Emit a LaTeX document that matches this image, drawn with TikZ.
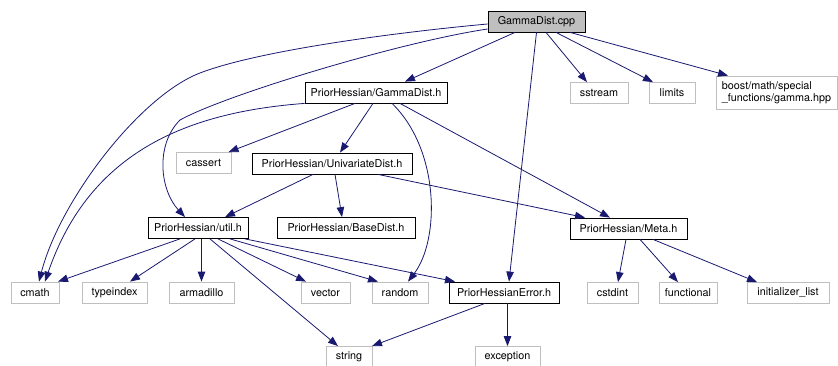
\documentclass[tikz,border=0pt]{standalone}
\usepackage{fontspec}
\setmainfont{TeX Gyre Heros}
\usetikzlibrary{arrows.meta}
\definecolor{edgeblue}{RGB}{25,25,112}
\definecolor{boxgray}{RGB}{191,191,191}

\begin{document}
\begin{tikzpicture}[x=1pt, y=-1pt,
    incbox/.style={draw=black, fill=white, line width=0.8pt, minimum height=21pt, inner sep=0pt, font=\fontsize{10.8}{12}\selectfont},
    sysbox/.style={incbox, draw=boxgray},
    rootbox/.style={incbox, fill=boxgray},
    arrow/.style={-{Triangle[length=10pt,width=7.5pt]}, edgeblue, line width=0.8pt}
]
\useasboundingbox (0,0) rectangle (838,366);

% Project headers
\node[rootbox, minimum width=97pt] (cpp) at (536.5,21.5) {GammaDist.cpp};
\node[incbox, minimum width=142pt] (gdh) at (376,92.5) {PriorHessian/GammaDist.h};
\node[incbox, minimum width=160pt] (unid) at (332,163.5) {PriorHessian/UnivariateDist.h};
\node[incbox, minimum width=100pt] (util) at (198,228) {PriorHessian/util.h};
\node[incbox, minimum width=138pt] (base) at (346,228) {PriorHessian/BaseDist.h};
\node[incbox, minimum width=117pt] (meta) at (628.5,228.5) {PriorHessian/Meta.h};
\node[incbox, minimum width=110pt] (peh) at (504,292.5) {PriorHessianError.h};

% System headers
\node[sysbox, minimum width=58pt] (sstream) at (599,93) {sstream};
\node[sysbox, minimum width=46pt] (limits) at (672,93) {limits};
\node[sysbox, minimum width=121pt, minimum height=33pt, align=left] (boost) at (776.5,92.5) {boost/math/special\\\_functions/gamma.hpp};
\node[sysbox, minimum width=55pt] (cassert) at (203.5,163) {cassert};
\node[sysbox, minimum width=48pt] (cmath) at (35,292.5) {cmath};
\node[sysbox, minimum width=65pt] (typeindex) at (114.5,292.5) {typeindex};
\node[sysbox, minimum width=65pt] (armadillo) at (201.5,292.5) {armadillo};
\node[sysbox, minimum width=49pt] (vector) at (325.5,292.5) {vector};
\node[sysbox, minimum width=56pt] (random) at (400,292.5) {random};
\node[sysbox, minimum width=51pt] (cstdint) at (612.5,293) {cstdint};
\node[sysbox, minimum width=58pt] (functional) at (688,293) {functional};
\node[sysbox, minimum width=82pt] (initlist) at (788,293) {initializer\_list};
\node[sysbox, minimum width=46pt] (string) at (349,357) {string};
\node[sysbox, minimum width=65pt] (exception) at (507.5,357) {exception};

% GammaDist.cpp includes
\draw[arrow] ([xshift=-21.5pt]cpp.south) -- ([xshift=29pt]gdh.north);
\draw[arrow] ([xshift=9.5pt]cpp.south) -- ([xshift=-12pt]sstream.north);
\draw[arrow] ([xshift=19.5pt]cpp.south) -- ([xshift=-19pt]limits.north);
\draw[arrow] ([xshift=33.5pt]cpp.south) -- ([xshift=-48.5pt]boost.north);
\draw[arrow] (cpp.south) -- ([xshift=5pt]peh.north);
\draw[arrow] ([yshift=-2.5pt]cpp.west) .. controls (400,32) and (260,50) .. (200,73)
    .. controls (140,96) and (60,200) .. ([xshift=4pt]cmath.north);
\draw[arrow] ([yshift=-7.5pt]cpp.west) .. controls (400,42) and (225,95) .. (180,120)
    .. controls (155,145) and (160,190) .. ([xshift=-13pt]util.north);

% GammaDist.h includes
\draw[arrow] ([xshift=-21pt]gdh.south) -- ([xshift=25pt]cassert.north);
\draw[arrow] ([xshift=-3pt]gdh.south) -- ([xshift=8pt]unid.north);
\draw[arrow] ([xshift=24pt]gdh.south) -- ([xshift=-18.5pt]meta.north);
\draw[arrow] (gdh.south west) .. controls (190,112) and (90,150) .. ([xshift=10pt]cmath.north);
\draw[arrow] ([xshift=16pt]gdh.south) .. controls (440,150) and (440,240) .. ([xshift=8pt]random.north);

% UnivariateDist.h includes
\draw[arrow] ([xshift=-19pt]unid.south) -- ([xshift=27pt]util.north);
\draw[arrow] ([xshift=3pt]unid.south) -- ([xshift=-4pt]base.north);
\draw[arrow] ([xshift=46pt]unid.south) -- ([xshift=-43.5pt]meta.north);

% util.h includes
\draw[arrow] ([xshift=-18pt]util.south) -- ([xshift=23pt]cmath.north);
\draw[arrow] ([xshift=-3pt]util.south) -- ([xshift=15.5pt]typeindex.north);
\draw[arrow] ([xshift=3.5pt]util.south) -- (armadillo.north);
\draw[arrow] ([xshift=12pt]util.south) -- ([xshift=-11pt]string.north);
\draw[arrow] ([xshift=20pt]util.south) -- ([xshift=-19.5pt]vector.north);
\draw[arrow] ([xshift=32pt]util.south) -- ([xshift=-22pt]random.north);
\draw[arrow] ([xshift=47pt]util.south) -- ([xshift=-49pt]peh.north);

% Meta.h and PriorHessianError.h includes
\draw[arrow] ([xshift=-2.5pt]meta.south) -- ([xshift=5.5pt]cstdint.north);
\draw[arrow] ([xshift=11.5pt]meta.south) -- ([xshift=-10pt]functional.north);
\draw[arrow] ([xshift=24.5pt]meta.south) -- ([xshift=-31pt]initlist.north);
\draw[arrow] ([xshift=-19pt]peh.south) -- ([xshift=23pt]string.north);
\draw[arrow] ([xshift=3.5pt]peh.south) -- (exception.north);

\end{tikzpicture}
\end{document}
